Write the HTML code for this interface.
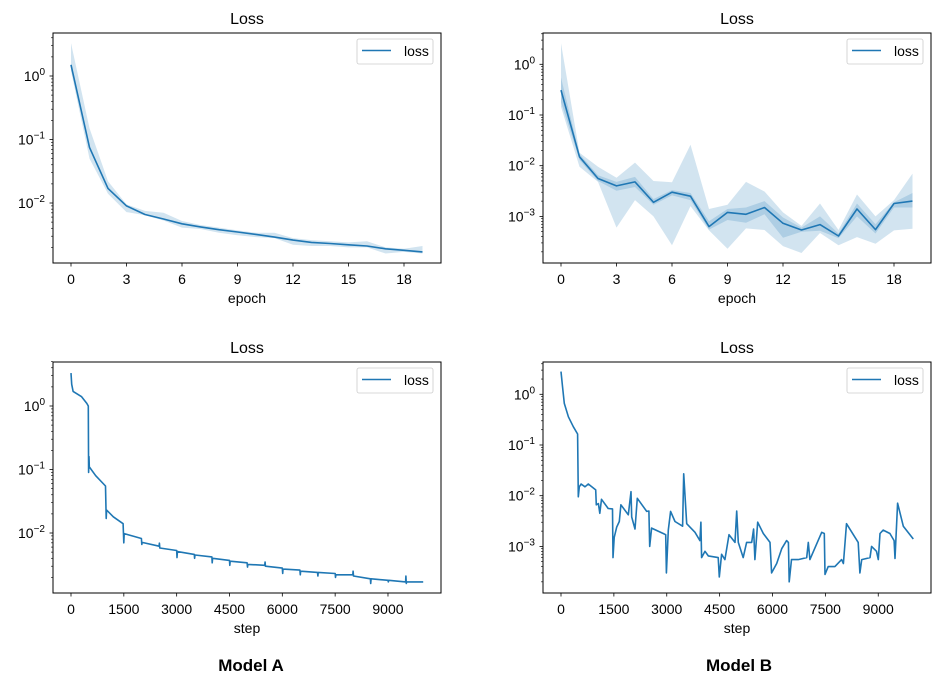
<!DOCTYPE html>
<html><head><meta charset="utf-8">
<style>
body{margin:0;background:#fff;}
svg{display:block;font-family:"Liberation Sans","DejaVu Sans",sans-serif;}
</style></head>
<body>
<svg id="chart" width="950" height="687" viewBox="0 0 950 687" xmlns="http://www.w3.org/2000/svg">
<rect width="950" height="687" fill="#fff"/>
<text x="251" y="671" text-anchor="middle" font-family="Liberation Sans, sans-serif" font-weight="bold" font-size="17">Model A</text>
<text x="739" y="671" text-anchor="middle" font-family="Liberation Sans, sans-serif" font-weight="bold" font-size="17">Model B</text>
</svg>
<script>
// Model A epoch data
const epochsA = [0,1,2,3,4,5,6,7,8,9,10,11,12,13,14,15,16,17,18,19];
const lossA = [1.5,0.075,0.017,0.009,0.0066,0.0056,0.0047,0.0042,0.0038,0.0035,0.0032,0.0029,0.0026,0.0024,0.0023,0.0022,0.0021,0.0019,0.0018,0.0017];
const hiA = [3.3,0.15,0.022,0.0095,0.0075,0.007,0.0052,0.0045,0.0041,0.0037,0.0034,0.0034,0.0028,0.0026,0.0025,0.0024,0.0025,0.002,0.0019,0.0021];
const loA = [1.2,0.05,0.014,0.0072,0.0064,0.0053,0.0041,0.0039,0.0034,0.0031,0.0029,0.0028,0.0022,0.0021,0.0021,0.002,0.002,0.0016,0.0017,0.0016];
// Model B epoch data
const epochsB = [0,1,2,3,4,5,6,7,8,9,10,11,12,13,14,15,16,17,18,19];
const lossB = [0.31,0.015,0.0056,0.004,0.0048,0.0019,0.003,0.0025,0.00063,0.0012,0.0011,0.0015,0.00073,0.00054,0.00069,0.00041,0.0014,0.00055,0.0018,0.002];
const hiB = [2.6,0.018,0.0095,0.0058,0.0115,0.005,0.0047,0.026,0.0014,0.0017,0.0048,0.0031,0.0012,0.00065,0.0018,0.00054,0.0027,0.001,0.0021,0.007];
const loB = [0.145,0.0095,0.0048,0.0006,0.0021,0.001,0.00027,0.0016,0.00053,0.00023,0.00058,0.00054,0.00026,0.00019,0.00047,0.00027,0.00039,0.00029,0.00053,0.00057];
const innerHiB = [0.55,0.017,0.0065,0.0048,0.006,0.0022,0.0033,0.0029,0.0008,0.0014,0.0015,0.002,0.00095,0.0006,0.001,0.00046,0.0018,0.0007,0.0019,0.0029];
const innerLoB = [0.18,0.013,0.005,0.0032,0.0038,0.0017,0.0026,0.0021,0.00055,0.00085,0.00075,0.0011,0.00038,0.0005,0.00052,0.00037,0.001,0.00046,0.0015,0.0015];
// Model A step data
const stepsA = [0,20,60,300,450,490,500,510,520,700,980,1000,1010,1200,1480,1500,1510,1800,2000,2010,2020,2500,2510,2520,3000,3010,3020,3500,3510,3520,4000,4010,4020,4500,4510,4520,5000,5010,5020,5500,5510,5520,6000,6010,6020,6500,6510,6520,7000,7010,7020,7500,7510,7520,8000,8010,8020,8500,8510,8520,9000,9010,9020,9500,9510,9520,9530,10000];
const stepLossA = [3.3,2.2,1.7,1.4,1.1,1.0,0.09,0.16,0.11,0.08,0.055,0.017,0.023,0.018,0.014,0.007,0.0098,0.0088,0.0082,0.0066,0.0071,0.0062,0.0069,0.0058,0.0053,0.0041,0.0051,0.0046,0.004,0.0045,0.0042,0.0034,0.004,0.0037,0.0031,0.0036,0.0034,0.0029,0.0032,0.0031,0.0035,0.003,0.0028,0.0023,0.0027,0.0026,0.0022,0.0025,0.0024,0.0021,0.0024,0.0023,0.002,0.0022,0.0022,0.0025,0.0021,0.0019,0.0016,0.0019,0.0018,0.0017,0.0018,0.0017,0.0021,0.0016,0.0017,0.0017];
// Model B step data
const stepsB = [0,40,95,210,350,470,490,520,570,680,775,985,1000,1060,1100,1150,1340,1460,1475,1510,1580,1655,1700,1910,1985,2005,2100,2165,2430,2495,2515,2570,2900,2970,2990,3045,3110,3235,3450,3480,3565,3800,3940,3970,3990,4085,4180,4460,4490,4555,4650,4765,4935,4985,5030,5170,5265,5410,5465,5500,5580,5740,5930,5975,6120,6260,6400,6450,6475,6540,6730,6970,7015,7060,7395,7470,7490,7580,7770,7960,8010,8100,8430,8480,8530,8765,8810,8950,9000,9050,9140,9330,9450,9475,9550,9710,9995];
const stepLossB = [2.8,1.5,0.66,0.36,0.23,0.165,0.0095,0.015,0.017,0.015,0.017,0.013,0.0066,0.007,0.0045,0.0085,0.0056,0.0055,0.0006,0.0015,0.0024,0.0031,0.0066,0.0042,0.012,0.0038,0.0022,0.0089,0.0049,0.005,0.001,0.0023,0.0018,0.0017,0.0003,0.0021,0.0049,0.0031,0.0025,0.027,0.0028,0.0019,0.0013,0.003,0.0006,0.0008,0.00065,0.0006,0.00025,0.0007,0.00055,0.0017,0.0012,0.005,0.0012,0.0006,0.0012,0.0012,0.0022,0.00055,0.003,0.0018,0.0012,0.0003,0.00046,0.0009,0.0013,0.0012,0.0002,0.00055,0.00055,0.0006,0.0012,0.00055,0.0019,0.0018,0.00028,0.0004,0.0004,0.00055,0.00046,0.0028,0.0012,0.0003,0.00055,0.0006,0.001,0.0008,0.00055,0.0018,0.0021,0.0018,0.0013,0.00058,0.0071,0.0025,0.0014];
const epochTicks = [0,3,6,9,12,15,18];
const stepTicks = [0,1500,3000,4500,6000,7500,9000];

const NS = "http://www.w3.org/2000/svg";
const svg = document.getElementById('chart');
const C = '#1f77b4';
function mk(tag, attrs, parent){
  const e = document.createElementNS(NS, tag);
  for (const k in attrs) e.setAttribute(k, attrs[k]);
  (parent||svg).appendChild(e);
  return e;
}
function panel(p){
  const g = mk('g', {});
  
  
  const px = v => p.xa + v * p.xs;
  const py = v => p.y0dec - Math.log10(v) * p.dec;
  const clipId = p.name + '-clip';
  const cp = mk('clipPath', {id: clipId}, g);
  mk('rect', {x: p.x0, y: p.y0, width: p.x1 - p.x0, height: p.y1 - p.y0}, cp);
  const plot = mk('g', {'clip-path': 'url(#' + clipId + ')'}, g);
  (p.bands||[]).forEach((b, bi) => {
    let d = '';
    p.xs_data.forEach((x, i) => { d += (i ? 'L' : 'M') + px(x).toFixed(1) + ',' + py(b.hi[i]).toFixed(1); });
    for (let i = p.xs_data.length - 1; i >= 0; i--) d += 'L' + px(p.xs_data[i]).toFixed(1) + ',' + py(b.lo[i]).toFixed(1);
    const band = mk('path', {d: d + 'Z', fill: C, 'fill-opacity': 0.2, stroke: 'none'}, plot);
    
    
  });
  let d = '';
  p.xs_data.forEach((x, i) => { d += (i ? 'L' : 'M') + px(x).toFixed(1) + ',' + py(p.ys[i]).toFixed(1); });
  const line = mk('path', {d: d, fill: 'none', stroke: C, 'stroke-width': 1.6, 'stroke-linejoin': 'round'}, plot);
  
  
  const fr = mk('rect', {x: p.x0, y: p.y0, width: p.x1 - p.x0, height: p.y1 - p.y0, fill: 'none', stroke: '#000', 'stroke-width': 1}, g);
  
  
  p.xticks.forEach(t => {
    const x = px(t);
    mk('line', {x1: x, x2: x, y1: p.y1, y2: p.y1 + 3.5, stroke: '#000', 'stroke-width': 0.8}, g);
    const lab = mk('text', {x: x, y: p.y1 + 21, 'text-anchor': 'middle', 'font-size': 14}, g);
    lab.textContent = String(t);
    
    
  });
  const xl = mk('text', {x: (p.x0 + p.x1) / 2, y: p.y1 + 40, 'text-anchor': 'middle', 'font-size': 14}, g);
  xl.textContent = p.xlabel;
  
  
  for (let e = p.emin - 1; e <= p.emax + 1; e++) {
    for (let m = 1; m < 10; m++) {
      const v = m * Math.pow(10, e);
      const y = py(v);
      if (y < p.y0 - 0.5 || y > p.y1 + 0.5) continue;
      const len = m === 1 ? 3.5 : 2;
      mk('line', {x1: p.x0 - len, x2: p.x0, y1: y, y2: y, stroke: '#000', 'stroke-width': m === 1 ? 0.8 : 0.6}, g);
      if (m === 1) {
        const lab = mk('text', {x: p.x0 - 8, y: y + 5, 'text-anchor': 'end', 'font-size': 14}, g);
        
        
        const t1 = mk('tspan', {}, lab); t1.textContent = '10';
        const t2 = mk('tspan', {dy: -6, 'font-size': 10}, lab); t2.textContent = e === 0 ? '0' : '\u2212' + (-e);
      }
    }
  }
  const tt = mk('text', {x: (p.x0 + p.x1) / 2, y: p.y0 - 9, 'text-anchor': 'middle', 'font-size': 16}, g);
  tt.textContent = 'Loss';
  
  
  const lg = mk('g', {}, g);
  
  
  mk('rect', {x: p.x1 - 84, y: p.y0 + 6, width: 76, height: 25, rx: 2, fill: '#fff', 'fill-opacity': 0.8, stroke: '#ccc', 'stroke-width': 0.8}, lg);
  mk('line', {x1: p.x1 - 79, x2: p.x1 - 50, y1: p.y0 + 17.5, y2: p.y0 + 17.5, stroke: C, 'stroke-width': 1.6}, lg);
  const lt = mk('text', {x: p.x1 - 37, y: p.y0 + 23, 'font-size': 14}, lg);
  lt.textContent = 'loss';
}
panel({name:'model-a-epoch-chart', x0:53,x1:441,y0:33,y1:263, xa:71, xs:18.5, y0dec:76, dec:63.5, emin:-2, emax:0,
  xs_data:epochsA, ys:lossA, bands:[{hi:hiA, lo:loA}], xticks:epochTicks, xlabel:'epoch'});
panel({name:'model-b-epoch-chart', x0:543,x1:931,y0:33,y1:263, xa:561, xs:18.5, y0dec:64.3, dec:50.7, emin:-3, emax:0,
  xs_data:epochsB, ys:lossB, bands:[{hi:hiB, lo:loB},{hi:innerHiB, lo:innerLoB}], xticks:epochTicks, xlabel:'epoch'});
panel({name:'model-a-step-chart', x0:53,x1:441,y0:362,y1:593, xa:71, xs:0.03522, y0dec:406, dec:63.5, emin:-2, emax:0,
  xs_data:stepsA, ys:stepLossA, bands:[], xticks:stepTicks, xlabel:'step'});
panel({name:'model-b-step-chart', x0:543,x1:931,y0:362,y1:593, xa:561, xs:0.03525, y0dec:394.3, dec:50.7, emin:-3, emax:0,
  xs_data:stepsB, ys:stepLossB, bands:[], xticks:stepTicks, xlabel:'step'});
</script>
</body></html>
